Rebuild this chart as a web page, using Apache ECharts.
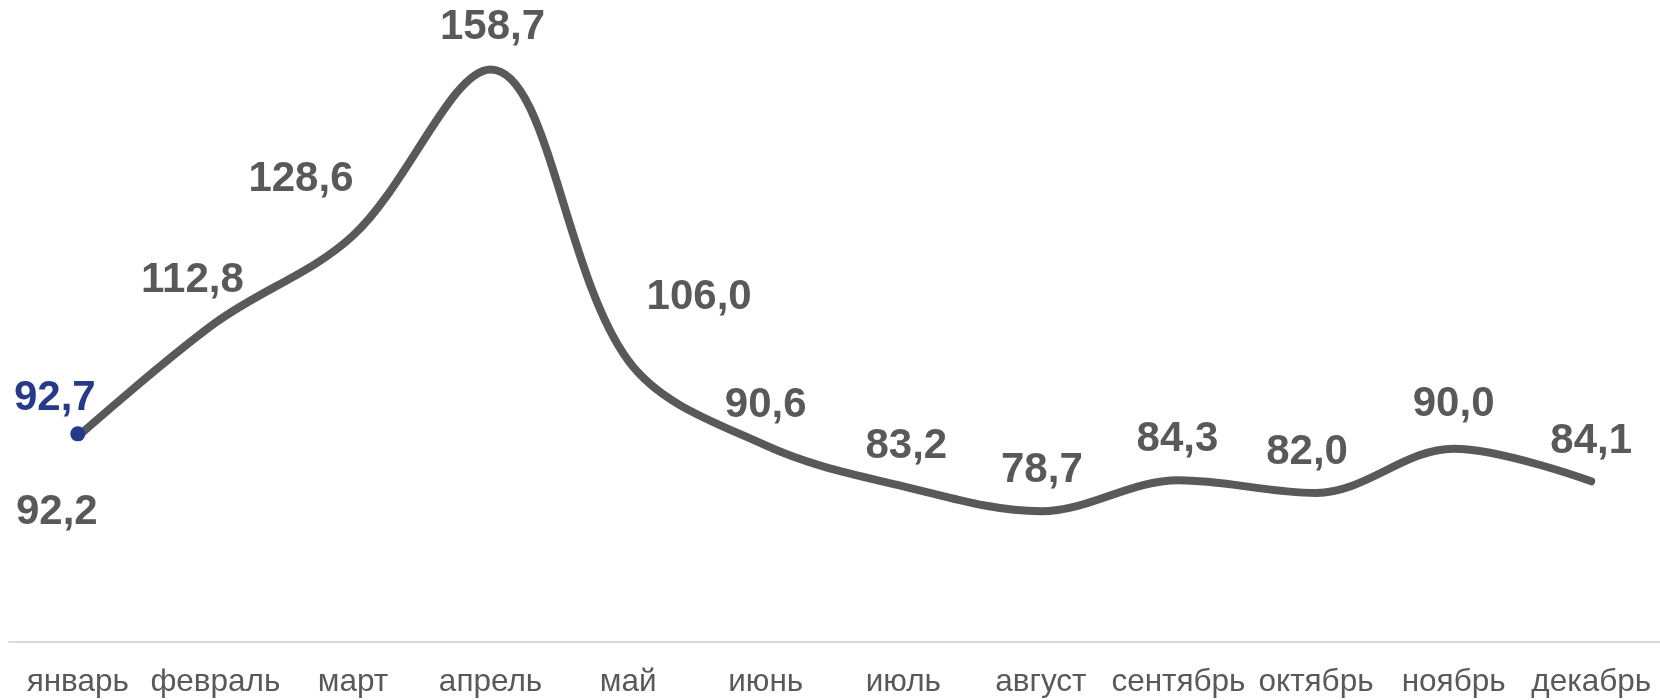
<!DOCTYPE html>
<html>
<head>
<meta charset="utf-8">
<script src="https://cdn.jsdelivr.net/npm/echarts@6/dist/echarts.min.js"></script>
<style>
html,body{margin:0;padding:0;background:#fff;}
#chart{width:1660px;height:700px;}
</style>
</head>
<body>
<div id="chart"></div>
<script>
const categories = ['январь','февраль','март','апрель','май','июнь','июль','август','сентябрь','октябрь','ноябрь','декабрь'];
const mainValues = [92.2, 112.8, 128.6, 158.7, 106.0, 90.6, 83.2, 78.7, 84.3, 82.0, 90.0, 84.1];
const highlightValues = [92.7, null, null, null, null, null, null, null, null, null, null, null];

// label placement offsets (layout only)
const mainLabelOffsets = [[-21,76],[-23,-42],[-52,-56],[2,-42],[71,-63],[0,-40],[3,-40],[1,-41],[-1,-41],[-9,-40],[0,-44],[0,-40]];
const highlightLabelOffset = [-23,-35];

const fmt = v => (typeof v === 'number' ? v : v.value).toFixed(1).replace('.', ',');
const FONT = '"Liberation Sans", Arial, sans-serif';
const GREY = '#595959';
const BLUE = '#253A8A';

const chart = echarts.init(document.getElementById('chart'));
chart.setOption({
  animation: false,
  grid: {left: 9, right: -3, top: 7, bottom: 58, containLabel: false},
  xAxis: {
    type: 'category',
    data: categories,
    boundaryGap: true,
    axisLine: {lineStyle: {color: '#d9d9d9', width: 2}},
    axisTick: {show: false},
    axisLabel: {color: GREY, fontSize: 31.5, fontFamily: FONT, margin: 24, interval: 0}
  },
  yAxis: {
    type: 'value', min: 55, max: 170, show: false,
    splitLine: {show: false}
  },
  series: [
    {
      type: 'line',
      data: mainValues.map((v, i) => ({
        value: v,
        label: {offset: mainLabelOffsets[i]}
      })),
      smooth: 0.35,
      symbol: 'circle',
      symbolSize: 0.1,
      itemStyle: {color: GREY},
      lineStyle: {color: GREY, width: 8, cap: 'round', join: 'round'},
      label: {
        show: true, position: 'inside', formatter: p => fmt(p.value),
        color: GREY, fontSize: 42, fontWeight: 'bold', fontFamily: FONT
      },
      z: 2
    },
    {
      type: 'line',
      data: highlightValues,
      symbol: 'circle',
      symbolSize: 15,
      showSymbol: true,
      itemStyle: {color: BLUE},
      lineStyle: {width: 0},
      label: {
        show: true, position: 'inside', offset: highlightLabelOffset,
        formatter: p => fmt(p.value),
        color: BLUE, fontSize: 42, fontWeight: 'bold', fontFamily: FONT
      },
      z: 3
    }
  ]
});
</script>
</body>
</html>
